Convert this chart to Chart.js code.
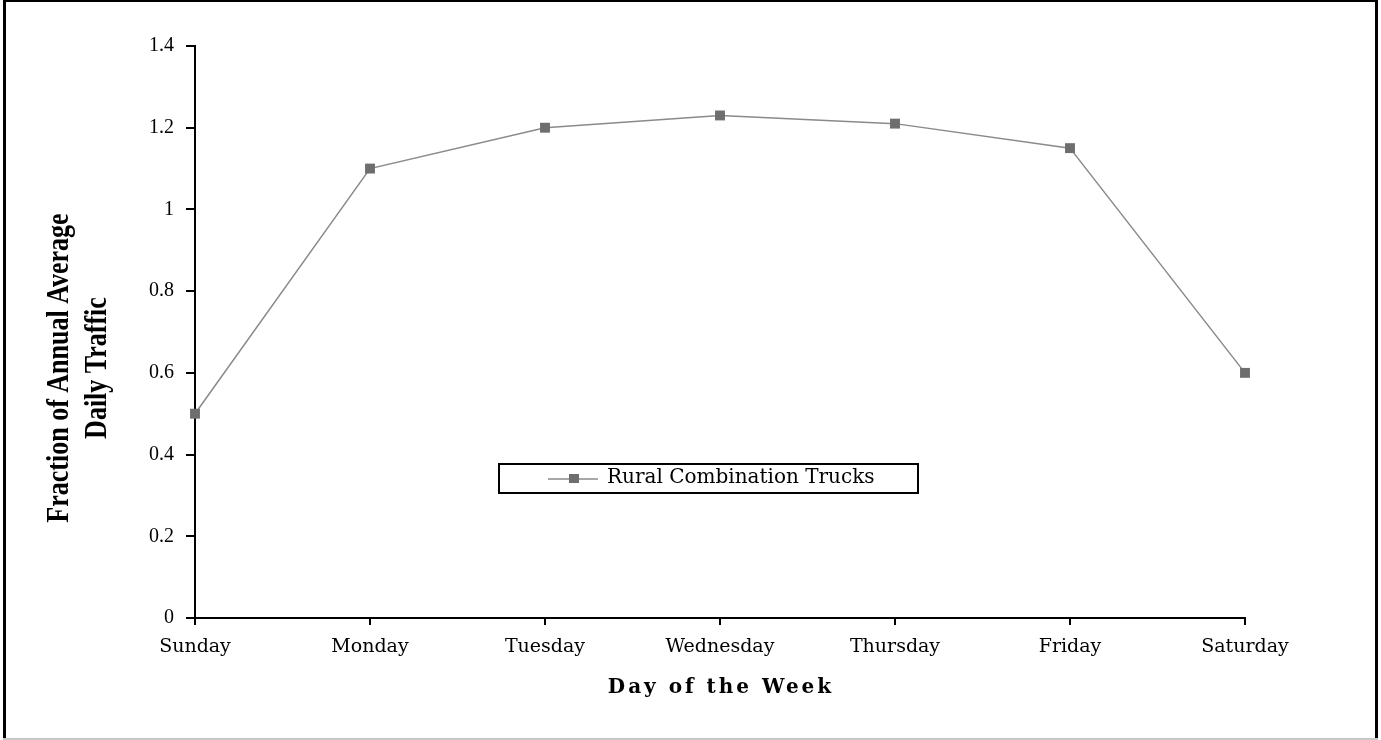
<!DOCTYPE html>
<html>
<head>
<meta charset="utf-8">
<script src="https://cdn.jsdelivr.net/npm/chart.js@4/dist/chart.umd.min.js"></script>
<style>
  html, body { margin: 0; padding: 0; background: #fff; }
  canvas { display: block; }
</style>
</head>
<body>
<canvas id="chart" width="1381" height="740"></canvas>
<script>
// chart values
const days = ["Sunday", "Monday", "Tuesday", "Wednesday", "Thursday", "Friday", "Saturday"];
const truckFraction = [0.5, 1.1, 1.2, 1.23, 1.21, 1.15, 0.6];
const yTicks = [0, 0.2, 0.4, 0.6, 0.8, 1, 1.2, 1.4];
const seriesName = "Rural Combination Trucks";
const xTitle = "Day of the Week";
const yTitle = ["Fraction of Annual Average", "Daily Traffic"];

const lineColor = "#8a8a8a";
const markerColor = "#6e6e6e";

// frame, axis titles and the legend box sitting inside the plot
const decorations = {
  id: "decorations",
  afterDraw(chart) {
    const ctx = chart.ctx;
    const area = chart.chartArea;

    // outer frame
    ctx.save();
    ctx.fillStyle = "#000";
    ctx.fillRect(3, 0, 3, 740);
    ctx.fillRect(1375, 0, 3, 740);
    ctx.fillRect(3, 0, 1375, 2);
    ctx.fillStyle = "#c8c8c8";
    ctx.fillRect(3, 738, 1375, 2);
    ctx.restore();

    // x title
    ctx.save();
    ctx.font = "bold 20px 'DejaVu Serif'";
    ctx.letterSpacing = "3px";
    ctx.fillStyle = "#000";
    ctx.textAlign = "center";
    ctx.textBaseline = "alphabetic";
    ctx.fillText(xTitle, (area.left + area.right) / 2 + 1, 693);
    ctx.restore();

    // y title, two rotated lines
    ctx.save();
    ctx.translate(79, 368);
    ctx.rotate(-Math.PI / 2);
    ctx.scale(1, 1.2);
    ctx.font = "bold 26px 'Liberation Serif'";
    ctx.fillStyle = "#000";
    ctx.textAlign = "center";
    ctx.textBaseline = "middle";
    ctx.fillText(yTitle[0], 0, -19 / 1.2);
    ctx.fillText(yTitle[1], 0, 19 / 1.2);
    ctx.restore();

    // legend
    const ds = chart.data.datasets[0];
    ctx.save();
    ctx.strokeStyle = "#000";
    ctx.lineWidth = 2;
    ctx.strokeRect(499, 464, 419, 29);
    ctx.strokeStyle = ds.borderColor;
    ctx.lineWidth = 1.5;
    ctx.beginPath();
    ctx.moveTo(548, 479);
    ctx.lineTo(598, 479);
    ctx.stroke();
    ctx.fillStyle = ds.pointBackgroundColor;
    ctx.fillRect(569, 474, 10, 9);
    ctx.font = "20px 'DejaVu Serif'";
    ctx.fillStyle = "#000";
    ctx.textAlign = "left";
    ctx.textBaseline = "middle";
    ctx.fillText(ds.label, 607, 478);
    ctx.restore();
  }
};

new Chart(document.getElementById("chart"), {
  type: "line",
  data: {
    labels: days,
    datasets: [{
      label: seriesName,
      data: truckFraction,
      borderColor: lineColor,
      borderWidth: 1.5,
      pointStyle: "rect",
      pointRadius: 7,
      pointBackgroundColor: markerColor,
      pointBorderWidth: 0,
      pointBorderColor: markerColor,
      tension: 0,
      clip: false
    }]
  },
  options: {
    responsive: false,
    animation: false,
    events: [],
    layout: { padding: { left: 0, top: 46, right: 136, bottom: 0 } },
    plugins: {
      legend: { display: false },
      tooltip: { enabled: false }
    },
    scales: {
      x: {
        type: "category",
        offset: false,
        afterFit(scale) { scale.height = 122; },
        border: { display: true, color: "#000", width: 2 },
        grid: { drawOnChartArea: false, drawTicks: true, tickLength: 7, color: "#000", lineWidth: 2 },
        ticks: {
          color: "#000",
          padding: 11,
          maxRotation: 0,
          autoSkip: false,
          font: { family: "'DejaVu Serif'", size: 19 }
        }
      },
      y: {
        min: 0,
        max: 1.4,
        afterFit(scale) { scale.width = 195; },
        afterBuildTicks(scale) { scale.ticks = yTicks.map(v => ({ value: v })); },
        border: { display: true, color: "#000", width: 2 },
        grid: { drawOnChartArea: false, drawTicks: true, tickLength: 9, color: "#000", lineWidth: 2 },
        ticks: {
          color: "#000",
          padding: 12,
          callback: v => String(v),
          font: { family: "'Liberation Serif'", size: 20 }
        }
      }
    }
  },
  plugins: [decorations]
});
</script>
</body>
</html>
